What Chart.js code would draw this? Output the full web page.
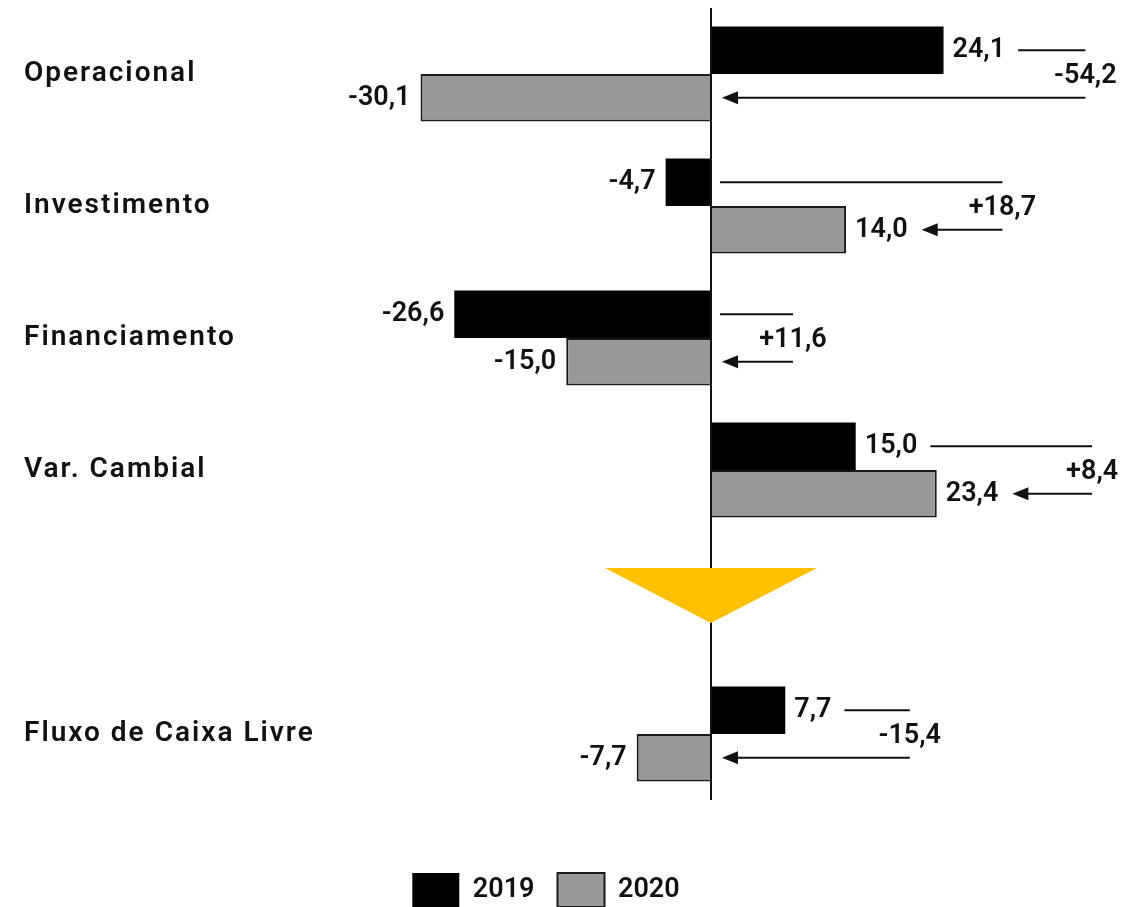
<!DOCTYPE html>
<html>
<head>
<meta charset="utf-8">
<script src="https://cdn.jsdelivr.net/npm/chart.js@4.4.1/dist/chart.umd.min.js"></script>
<style>
  html, body { margin: 0; padding: 0; background: #fff; overflow: hidden; }
  .wrap { width: 1142px; height: 917px; }
</style>
</head>
<body>
<div class="wrap"><canvas id="fluxo" width="1142" height="917"></canvas></div>
<script>
const categories = ['Operacional', 'Investimento', 'Financiamento', 'Var. Cambial', '', 'Fluxo de Caixa Livre'];
const values2019 = [24.1, -4.7, -26.6, 15.0, null, 7.7];
const values2020 = [-30.1, 14.0, -15.0, 23.4, null, -7.7];
const changes = [-54.2, 18.7, 11.6, 8.4, null, -15.4];
const seriesLabels = ['2019', '2020'];

const FONT = "Roboto, 'Noto Sans', sans-serif";
const WEIGHT = '600';
const fmt = v => v.toFixed(1).replace('.', ',');
const fmtChange = v => (v > 0 ? '+' : '') + fmt(v);

// right end of each change bracket, in x-axis units
const bracketEnd = [38.8, 30.2, 8.5, 39.5, null, 20.6];

const annotations = {
  id: 'annotations',
  afterDraw(chart) {
    const { ctx, scales: { x, y } } = chart;
    const zero = x.getPixelForValue(0);
    const bars = [chart.getDatasetMeta(0).data, chart.getDatasetMeta(1).data];
    const vals = [values2019, values2020];

    ctx.save();
    // yellow arrow between the components and the free cash flow
    const cy = y.getPixelForValue(4);
    ctx.fillStyle = '#FFC000';
    ctx.beginPath();
    ctx.moveTo(zero - 106, cy - 34);
    ctx.lineTo(zero + 106, cy - 34);
    ctx.lineTo(zero, cy + 21);
    ctx.closePath();
    ctx.fill();

    ctx.fillStyle = '#111';
    ctx.textBaseline = 'middle';

    // category names
    ctx.font = `${WEIGHT} 28px ${FONT}`;
    ctx.textAlign = 'left';
    ctx.letterSpacing = '2px';
    categories.forEach((c, i) => ctx.fillText(c, 24, y.getPixelForValue(i)));
    ctx.letterSpacing = '0px';

    // value labels
    ctx.font = `${WEIGHT} 27px ${FONT}`;
    const labelRight = [[], []];
    bars.forEach((list, d) => {
      list.forEach((bar, i) => {
        const v = vals[d][i];
        if (v == null) return;
        const txt = fmt(v);
        if (v >= 0) {
          ctx.textAlign = 'left';
          ctx.fillText(txt, bar.x + 9, bar.y);
          labelRight[d][i] = bar.x + 9 + ctx.measureText(txt).width;
        } else {
          ctx.textAlign = 'right';
          ctx.fillText(txt, bar.x - 10, bar.y);
        }
      });
    });

    // change brackets
    ctx.strokeStyle = '#111';
    ctx.lineWidth = 2;
    changes.forEach((c, i) => {
      if (c == null) return;
      const end = x.getPixelForValue(bracketEnd[i]);
      const y1 = bars[0][i].y;
      const y2 = bars[1][i].y;
      const start = values2019[i] >= 0 ? labelRight[0][i] + 13 : zero + 9;
      const tip = values2020[i] >= 0 ? labelRight[1][i] + 14 : zero + 11;

      ctx.beginPath();
      ctx.moveTo(start, y1);
      ctx.lineTo(end, y1);
      ctx.moveTo(end, y2);
      ctx.lineTo(tip + 12, y2);
      ctx.stroke();

      ctx.beginPath();
      ctx.moveTo(tip, y2);
      ctx.lineTo(tip + 16, y2 - 6.5);
      ctx.lineTo(tip + 16, y2 + 6.5);
      ctx.closePath();
      ctx.fill();

      ctx.textAlign = 'center';
      ctx.fillText(fmtChange(c), end, y.getPixelForValue(i) + 2);
    });
    ctx.restore();
  }
};

new Chart(document.getElementById('fluxo'), {
  type: 'bar',
  data: {
    labels: categories,
    datasets: [
      {
        label: seriesLabels[0],
        data: values2019,
        backgroundColor: '#000',
        borderColor: '#000',
        borderWidth: 0,
        categoryPercentage: 0.72,
        barPercentage: 1
      },
      {
        label: seriesLabels[1],
        data: values2020,
        backgroundColor: '#999',
        borderColor: '#1a1a1a',
        borderWidth: 2,
        borderSkipped: 'start',
        categoryPercentage: 0.72,
        barPercentage: 1
      }
    ]
  },
  options: {
    indexAxis: 'y',
    responsive: false,
    animation: false,
    layout: { padding: { left: 24, top: 8, right: 74 } },
    scales: {
      x: {
        min: -40,
        max: 37,
        ticks: { display: false, stepSize: 10 },
        border: { display: false },
        grid: {
          drawTicks: false,
          lineWidth: 2,
          color: c => (c.tick && c.tick.value === 0 ? '#111' : 'transparent')
        },
        afterFit: s => { s.height = 50; }
      },
      y: {
        ticks: { display: false },
        grid: { display: false },
        border: { display: false },
        afterFit: s => { s.width = 301; }
      }
    },
    plugins: {
      legend: {
        position: 'bottom',
        labels: {
          boxWidth: 47,
          boxHeight: 34,
          padding: 23,
          color: '#111',
          font: { family: FONT, size: 27, weight: WEIGHT }
        }
      },
      tooltip: { enabled: false }
    }
  },
  plugins: [annotations]
});
</script>
</body>
</html>
